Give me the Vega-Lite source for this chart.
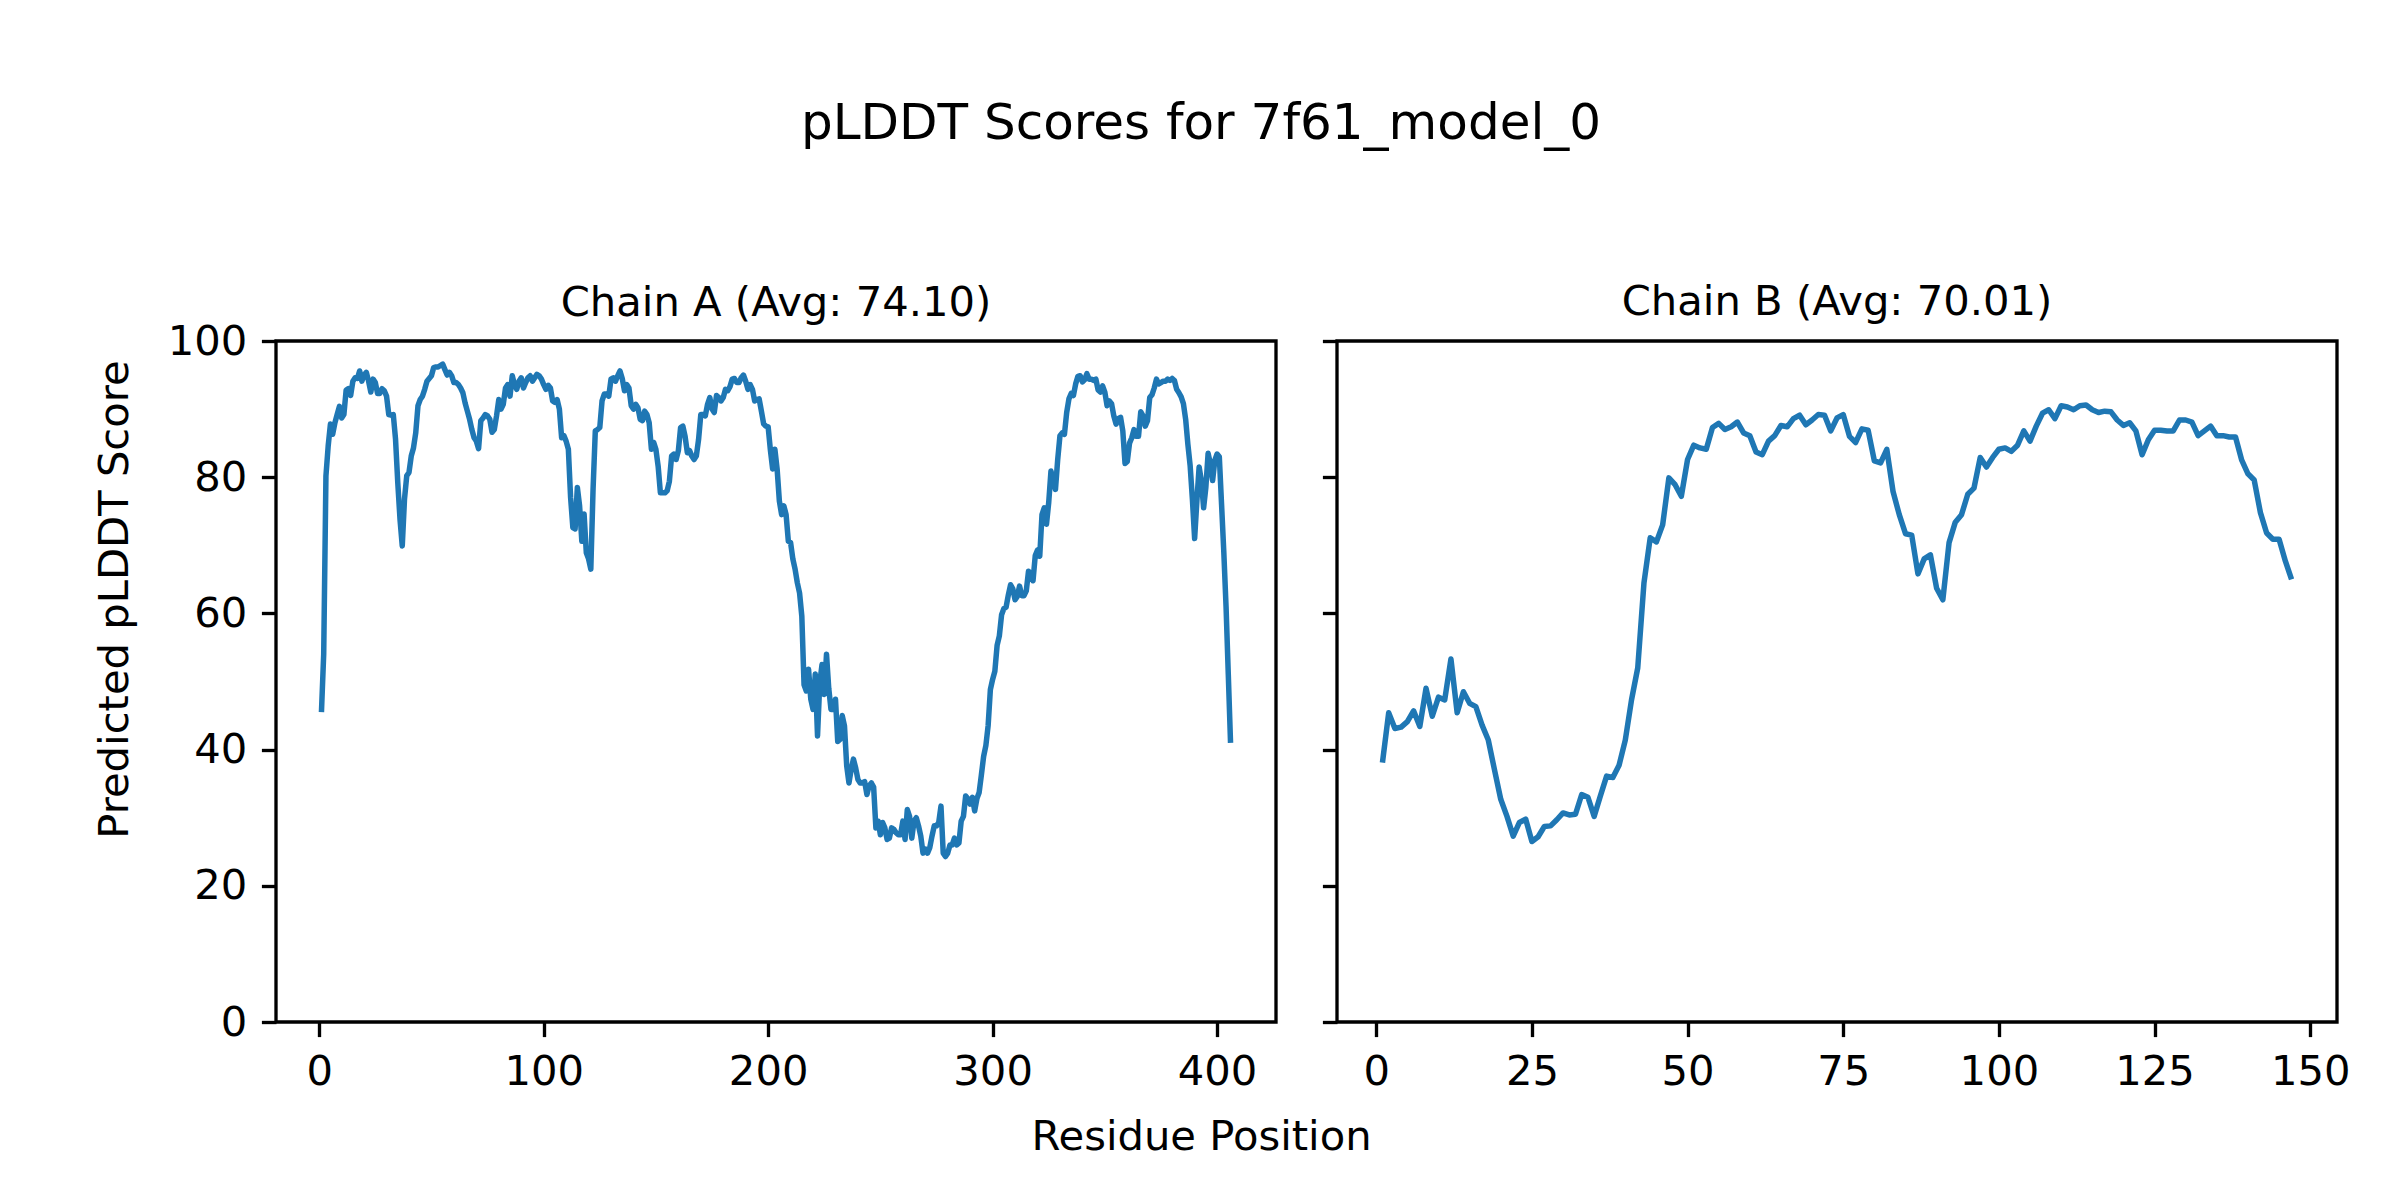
{
  "$schema": "https://vega.github.io/schema/vega-lite/v6.json",
  "background": "white",
  "autosize": {"type": "pad"},
  "padding": {"left": 92, "top": 98, "right": 0, "bottom": 0},
  "bounds": "flush",
  "spacing": 61,
  "title": {"text": "pLDDT Scores for 7f61_model_0", "fontSize": 50, "fontWeight": "normal", "color": "black", "font": "DejaVu Sans", "anchor": "start", "align": "center", "frame": "group", "dx": 925, "baseline": "alphabetic", "offset": 92},
  "datasets": {
    "chainA": [
      {"residue":1,"plddt":45.5},{"residue":2,"plddt":54.0},{"residue":3,"plddt":80.2},{"residue":4,"plddt":84.6},{"residue":5,"plddt":87.8},{"residue":6,"plddt":86.3},{"residue":7,"plddt":88.0},{"residue":8,"plddt":89.2},{"residue":9,"plddt":90.4},{"residue":10,"plddt":88.7},
      {"residue":11,"plddt":89.2},{"residue":12,"plddt":92.8},{"residue":13,"plddt":93.0},{"residue":14,"plddt":92.0},{"residue":15,"plddt":94.1},{"residue":16,"plddt":94.6},{"residue":17,"plddt":94.5},{"residue":18,"plddt":95.6},{"residue":19,"plddt":94.1},{"residue":20,"plddt":95.0},
      {"residue":21,"plddt":95.4},{"residue":22,"plddt":94.1},{"residue":23,"plddt":92.5},{"residue":24,"plddt":94.4},{"residue":25,"plddt":93.9},{"residue":26,"plddt":92.3},{"residue":27,"plddt":92.3},{"residue":28,"plddt":93.0},{"residue":29,"plddt":92.7},{"residue":30,"plddt":91.9},
      {"residue":31,"plddt":89.2},{"residue":32,"plddt":89.1},{"residue":33,"plddt":89.2},{"residue":34,"plddt":85.6},{"residue":35,"plddt":79.2},{"residue":36,"plddt":73.8},{"residue":37,"plddt":69.9},{"residue":38,"plddt":76.8},{"residue":39,"plddt":80.2},{"residue":40,"plddt":80.7},
      {"residue":41,"plddt":83.1},{"residue":42,"plddt":84.3},{"residue":43,"plddt":86.5},{"residue":44,"plddt":90.5},{"residue":45,"plddt":91.4},{"residue":46,"plddt":91.9},{"residue":47,"plddt":92.9},{"residue":48,"plddt":94.1},{"residue":49,"plddt":94.5},{"residue":50,"plddt":94.9},
      {"residue":51,"plddt":96.1},{"residue":52,"plddt":96.2},{"residue":53,"plddt":96.2},{"residue":54,"plddt":96.4},{"residue":55,"plddt":96.6},{"residue":56,"plddt":95.8},{"residue":57,"plddt":95.0},{"residue":58,"plddt":95.4},{"residue":59,"plddt":94.9},{"residue":60,"plddt":93.9},
      {"residue":61,"plddt":93.9},{"residue":62,"plddt":93.6},{"residue":63,"plddt":93.1},{"residue":64,"plddt":92.4},{"residue":65,"plddt":90.9},{"residue":66,"plddt":89.7},{"residue":67,"plddt":88.5},{"residue":68,"plddt":87.0},{"residue":69,"plddt":85.8},{"residue":70,"plddt":85.3},
      {"residue":71,"plddt":84.2},{"residue":72,"plddt":88.3},{"residue":73,"plddt":88.7},{"residue":74,"plddt":89.2},{"residue":75,"plddt":89.0},{"residue":76,"plddt":88.5},{"residue":77,"plddt":86.6},{"residue":78,"plddt":87.0},{"residue":79,"plddt":89.0},{"residue":80,"plddt":91.4},
      {"residue":81,"plddt":90.0},{"residue":82,"plddt":90.7},{"residue":83,"plddt":93.1},{"residue":84,"plddt":93.6},{"residue":85,"plddt":91.9},{"residue":86,"plddt":94.9},{"residue":87,"plddt":93.6},{"residue":88,"plddt":92.9},{"residue":89,"plddt":94.1},{"residue":90,"plddt":94.6},
      {"residue":91,"plddt":93.1},{"residue":92,"plddt":93.9},{"residue":93,"plddt":94.6},{"residue":94,"plddt":94.9},{"residue":95,"plddt":94.1},{"residue":96,"plddt":94.6},{"residue":97,"plddt":95.1},{"residue":98,"plddt":94.9},{"residue":99,"plddt":94.4},{"residue":100,"plddt":93.6},
      {"residue":101,"plddt":92.9},{"residue":102,"plddt":93.5},{"residue":103,"plddt":93.1},{"residue":104,"plddt":91.2},{"residue":105,"plddt":91.0},{"residue":106,"plddt":91.4},{"residue":107,"plddt":90.0},{"residue":108,"plddt":85.8},{"residue":109,"plddt":86.1},{"residue":110,"plddt":85.3},
      {"residue":111,"plddt":84.1},{"residue":112,"plddt":77.0},{"residue":113,"plddt":72.6},{"residue":114,"plddt":72.4},{"residue":115,"plddt":78.5},{"residue":116,"plddt":75.8},{"residue":117,"plddt":70.6},{"residue":118,"plddt":74.6},{"residue":119,"plddt":68.9},{"residue":120,"plddt":68.0},
      {"residue":121,"plddt":66.5},{"residue":122,"plddt":78.2},{"residue":123,"plddt":86.8},{"residue":124,"plddt":87.0},{"residue":125,"plddt":87.3},{"residue":126,"plddt":91.2},{"residue":127,"plddt":92.2},{"residue":128,"plddt":92.2},{"residue":129,"plddt":91.9},{"residue":130,"plddt":94.4},
      {"residue":131,"plddt":94.6},{"residue":132,"plddt":94.1},{"residue":133,"plddt":94.9},{"residue":134,"plddt":95.6},{"residue":135,"plddt":94.5},{"residue":136,"plddt":92.7},{"residue":137,"plddt":93.6},{"residue":138,"plddt":93.1},{"residue":139,"plddt":90.5},{"residue":140,"plddt":90.0},
      {"residue":141,"plddt":90.7},{"residue":142,"plddt":90.2},{"residue":143,"plddt":88.5},{"residue":144,"plddt":88.3},{"residue":145,"plddt":89.7},{"residue":146,"plddt":89.2},{"residue":147,"plddt":88.0},{"residue":148,"plddt":84.1},{"residue":149,"plddt":85.1},{"residue":150,"plddt":84.1},
      {"residue":151,"plddt":81.6},{"residue":152,"plddt":77.7},{"residue":153,"plddt":77.7},{"residue":154,"plddt":77.7},{"residue":155,"plddt":78.0},{"residue":156,"plddt":79.4},{"residue":157,"plddt":83.1},{"residue":158,"plddt":83.4},{"residue":159,"plddt":82.6},{"residue":160,"plddt":83.9},
      {"residue":161,"plddt":87.3},{"residue":162,"plddt":87.5},{"residue":163,"plddt":86.0},{"residue":164,"plddt":83.6},{"residue":165,"plddt":83.9},{"residue":166,"plddt":83.1},{"residue":167,"plddt":82.6},{"residue":168,"plddt":83.1},{"residue":169,"plddt":85.5},{"residue":170,"plddt":89.2},
      {"residue":171,"plddt":89.2},{"residue":172,"plddt":89.0},{"residue":173,"plddt":90.7},{"residue":174,"plddt":91.7},{"residue":175,"plddt":90.0},{"residue":176,"plddt":89.5},{"residue":177,"plddt":92.0},{"residue":178,"plddt":91.7},{"residue":179,"plddt":91.2},{"residue":180,"plddt":91.7},
      {"residue":181,"plddt":92.9},{"residue":182,"plddt":92.7},{"residue":183,"plddt":93.3},{"residue":184,"plddt":94.4},{"residue":185,"plddt":94.5},{"residue":186,"plddt":93.9},{"residue":187,"plddt":93.9},{"residue":188,"plddt":94.6},{"residue":189,"plddt":95.0},{"residue":190,"plddt":94.1},
      {"residue":191,"plddt":92.9},{"residue":192,"plddt":93.6},{"residue":193,"plddt":92.9},{"residue":194,"plddt":91.2},{"residue":195,"plddt":91.4},{"residue":196,"plddt":91.5},{"residue":197,"plddt":89.7},{"residue":198,"plddt":87.8},{"residue":199,"plddt":87.5},{"residue":200,"plddt":87.4},
      {"residue":201,"plddt":84.0},{"residue":202,"plddt":81.2},{"residue":203,"plddt":84.1},{"residue":204,"plddt":81.2},{"residue":205,"plddt":76.5},{"residue":206,"plddt":74.5},{"residue":207,"plddt":75.8},{"residue":208,"plddt":74.5},{"residue":209,"plddt":70.6},{"residue":210,"plddt":70.4},
      {"residue":211,"plddt":68.0},{"residue":212,"plddt":66.5},{"residue":213,"plddt":64.5},{"residue":214,"plddt":63.0},{"residue":215,"plddt":59.6},{"residue":216,"plddt":49.5},{"residue":217,"plddt":48.6},{"residue":218,"plddt":51.8},{"residue":219,"plddt":47.4},{"residue":220,"plddt":45.9},
      {"residue":221,"plddt":51.1},{"residue":222,"plddt":42.0},{"residue":223,"plddt":49.8},{"residue":224,"plddt":52.5},{"residue":225,"plddt":48.1},{"residue":226,"plddt":54.0},{"residue":227,"plddt":49.0},{"residue":228,"plddt":45.9},{"residue":229,"plddt":45.9},{"residue":230,"plddt":47.4},
      {"residue":231,"plddt":41.2},{"residue":232,"plddt":41.5},{"residue":233,"plddt":45.0},{"residue":234,"plddt":43.5},{"residue":235,"plddt":37.6},{"residue":236,"plddt":35.1},{"residue":237,"plddt":37.1},{"residue":238,"plddt":38.6},{"residue":239,"plddt":37.3},{"residue":240,"plddt":35.6},
      {"residue":241,"plddt":35.1},{"residue":242,"plddt":35.1},{"residue":243,"plddt":35.3},{"residue":244,"plddt":33.4},{"residue":245,"plddt":34.7},{"residue":246,"plddt":35.1},{"residue":247,"plddt":34.5},{"residue":248,"plddt":28.5},{"residue":249,"plddt":29.5},{"residue":250,"plddt":27.5},
      {"residue":251,"plddt":29.3},{"residue":252,"plddt":28.5},{"residue":253,"plddt":26.8},{"residue":254,"plddt":27.0},{"residue":255,"plddt":28.5},{"residue":256,"plddt":28.3},{"residue":257,"plddt":27.8},{"residue":258,"plddt":27.5},{"residue":259,"plddt":27.5},{"residue":260,"plddt":29.5},
      {"residue":261,"plddt":26.8},{"residue":262,"plddt":31.2},{"residue":263,"plddt":30.2},{"residue":264,"plddt":27.0},{"residue":265,"plddt":29.5},{"residue":266,"plddt":30.0},{"residue":267,"plddt":28.8},{"residue":268,"plddt":27.3},{"residue":269,"plddt":24.8},{"residue":270,"plddt":25.4},
      {"residue":271,"plddt":24.8},{"residue":272,"plddt":25.6},{"residue":273,"plddt":27.3},{"residue":274,"plddt":28.8},{"residue":275,"plddt":28.8},{"residue":276,"plddt":29.3},{"residue":277,"plddt":31.7},{"residue":278,"plddt":24.8},{"residue":279,"plddt":24.3},{"residue":280,"plddt":24.8},
      {"residue":281,"plddt":26.0},{"residue":282,"plddt":26.0},{"residue":283,"plddt":27.0},{"residue":284,"plddt":26.0},{"residue":285,"plddt":26.3},{"residue":286,"plddt":29.5},{"residue":287,"plddt":30.2},{"residue":288,"plddt":33.2},{"residue":289,"plddt":32.8},{"residue":290,"plddt":32.0},
      {"residue":291,"plddt":33.0},{"residue":292,"plddt":31.0},{"residue":293,"plddt":32.8},{"residue":294,"plddt":33.7},{"residue":295,"plddt":36.3},{"residue":296,"plddt":39.0},{"residue":297,"plddt":40.6},{"residue":298,"plddt":43.5},{"residue":299,"plddt":48.8},{"residue":300,"plddt":50.3},
      {"residue":301,"plddt":51.5},{"residue":302,"plddt":55.3},{"residue":303,"plddt":56.7},{"residue":304,"plddt":59.8},{"residue":305,"plddt":60.7},{"residue":306,"plddt":60.9},{"residue":307,"plddt":62.7},{"residue":308,"plddt":64.2},{"residue":309,"plddt":63.6},{"residue":310,"plddt":62.0},
      {"residue":311,"plddt":62.5},{"residue":312,"plddt":64.0},{"residue":313,"plddt":62.6},{"residue":314,"plddt":62.6},{"residue":315,"plddt":63.3},{"residue":316,"plddt":66.2},{"residue":317,"plddt":65.5},{"residue":318,"plddt":64.8},{"residue":319,"plddt":68.5},{"residue":320,"plddt":69.3},
      {"residue":321,"plddt":68.4},{"residue":322,"plddt":74.5},{"residue":323,"plddt":75.5},{"residue":324,"plddt":73.1},{"residue":325,"plddt":76.3},{"residue":326,"plddt":80.9},{"residue":327,"plddt":79.5},{"residue":328,"plddt":78.2},{"residue":329,"plddt":82.6},{"residue":330,"plddt":86.1},
      {"residue":331,"plddt":86.5},{"residue":332,"plddt":86.3},{"residue":333,"plddt":89.5},{"residue":334,"plddt":91.5},{"residue":335,"plddt":92.3},{"residue":336,"plddt":92.0},{"residue":337,"plddt":93.7},{"residue":338,"plddt":94.8},{"residue":339,"plddt":94.9},{"residue":340,"plddt":94.0},
      {"residue":341,"plddt":94.3},{"residue":342,"plddt":95.2},{"residue":343,"plddt":94.4},{"residue":344,"plddt":94.4},{"residue":345,"plddt":94.2},{"residue":346,"plddt":94.4},{"residue":347,"plddt":92.8},{"residue":348,"plddt":92.5},{"residue":349,"plddt":93.4},{"residue":350,"plddt":92.5},
      {"residue":351,"plddt":90.5},{"residue":352,"plddt":91.2},{"residue":353,"plddt":90.8},{"residue":354,"plddt":89.0},{"residue":355,"plddt":87.8},{"residue":356,"plddt":88.6},{"residue":357,"plddt":88.8},{"residue":358,"plddt":86.8},{"residue":359,"plddt":82.0},{"residue":360,"plddt":82.3},
      {"residue":361,"plddt":85.0},{"residue":362,"plddt":85.8},{"residue":363,"plddt":87.0},{"residue":364,"plddt":86.0},{"residue":365,"plddt":86.0},{"residue":366,"plddt":89.6},{"residue":367,"plddt":89.0},{"residue":368,"plddt":87.5},{"residue":369,"plddt":88.3},{"residue":370,"plddt":91.7},
      {"residue":371,"plddt":92.1},{"residue":372,"plddt":93.1},{"residue":373,"plddt":94.4},{"residue":374,"plddt":93.7},{"residue":375,"plddt":93.9},{"residue":376,"plddt":94.1},{"residue":377,"plddt":94.1},{"residue":378,"plddt":94.4},{"residue":379,"plddt":94.2},{"residue":380,"plddt":94.5},
      {"residue":381,"plddt":94.2},{"residue":382,"plddt":92.9},{"residue":383,"plddt":92.4},{"residue":384,"plddt":91.8},{"residue":385,"plddt":90.8},{"residue":386,"plddt":88.5},{"residue":387,"plddt":84.8},{"residue":388,"plddt":81.7},{"residue":389,"plddt":76.8},{"residue":390,"plddt":71.0},
      {"residue":391,"plddt":76.5},{"residue":392,"plddt":81.5},{"residue":393,"plddt":79.5},{"residue":394,"plddt":75.5},{"residue":395,"plddt":78.5},{"residue":396,"plddt":83.5},{"residue":397,"plddt":82.0},{"residue":398,"plddt":79.5},{"residue":399,"plddt":82.5},{"residue":400,"plddt":83.4},
      {"residue":401,"plddt":83.0},{"residue":402,"plddt":76.0},{"residue":403,"plddt":69.0},{"residue":404,"plddt":61.0},{"residue":405,"plddt":51.0},{"residue":406,"plddt":41.0}
    ],
    "chainB": [
      {"residue":1,"plddt":38.1},{"residue":2,"plddt":45.4},{"residue":3,"plddt":43.1},{"residue":4,"plddt":43.3},{"residue":5,"plddt":44.1},{"residue":6,"plddt":45.7},{"residue":7,"plddt":43.4},{"residue":8,"plddt":49.0},{"residue":9,"plddt":44.9},{"residue":10,"plddt":47.7},
      {"residue":11,"plddt":47.3},{"residue":12,"plddt":53.3},{"residue":13,"plddt":45.4},{"residue":14,"plddt":48.5},{"residue":15,"plddt":46.8},{"residue":16,"plddt":46.3},{"residue":17,"plddt":43.6},{"residue":18,"plddt":41.4},{"residue":19,"plddt":37.0},{"residue":20,"plddt":32.7},
      {"residue":21,"plddt":30.2},{"residue":22,"plddt":27.3},{"residue":23,"plddt":29.3},{"residue":24,"plddt":29.8},{"residue":25,"plddt":26.5},{"residue":26,"plddt":27.2},{"residue":27,"plddt":28.7},{"residue":28,"plddt":28.8},{"residue":29,"plddt":29.7},{"residue":30,"plddt":30.7},
      {"residue":31,"plddt":30.4},{"residue":32,"plddt":30.5},{"residue":33,"plddt":33.4},{"residue":34,"plddt":33.0},{"residue":35,"plddt":30.2},{"residue":36,"plddt":33.2},{"residue":37,"plddt":36.1},{"residue":38,"plddt":35.9},{"residue":39,"plddt":37.7},{"residue":40,"plddt":41.4},
      {"residue":41,"plddt":47.3},{"residue":42,"plddt":52.0},{"residue":43,"plddt":64.5},{"residue":44,"plddt":71.1},{"residue":45,"plddt":70.5},{"residue":46,"plddt":73.0},{"residue":47,"plddt":79.9},{"residue":48,"plddt":78.9},{"residue":49,"plddt":77.2},{"residue":50,"plddt":82.6},
      {"residue":51,"plddt":84.7},{"residue":52,"plddt":84.3},{"residue":53,"plddt":84.1},{"residue":54,"plddt":87.3},{"residue":55,"plddt":87.9},{"residue":56,"plddt":87.0},{"residue":57,"plddt":87.4},{"residue":58,"plddt":88.1},{"residue":59,"plddt":86.5},{"residue":60,"plddt":86.1},
      {"residue":61,"plddt":83.7},{"residue":62,"plddt":83.3},{"residue":63,"plddt":85.3},{"residue":64,"plddt":86.1},{"residue":65,"plddt":87.6},{"residue":66,"plddt":87.4},{"residue":67,"plddt":88.6},{"residue":68,"plddt":89.1},{"residue":69,"plddt":87.7},{"residue":70,"plddt":88.4},
      {"residue":71,"plddt":89.2},{"residue":72,"plddt":89.1},{"residue":73,"plddt":86.8},{"residue":74,"plddt":88.7},{"residue":75,"plddt":89.2},{"residue":76,"plddt":86.0},{"residue":77,"plddt":85.1},{"residue":78,"plddt":87.1},{"residue":79,"plddt":86.9},{"residue":80,"plddt":82.4},
      {"residue":81,"plddt":82.1},{"residue":82,"plddt":84.1},{"residue":83,"plddt":77.9},{"residue":84,"plddt":74.5},{"residue":85,"plddt":71.7},{"residue":86,"plddt":71.5},{"residue":87,"plddt":65.8},{"residue":88,"plddt":68.0},{"residue":89,"plddt":68.6},{"residue":90,"plddt":63.7},
      {"residue":91,"plddt":62.0},{"residue":92,"plddt":70.4},{"residue":93,"plddt":73.4},{"residue":94,"plddt":74.5},{"residue":95,"plddt":77.5},{"residue":96,"plddt":78.4},{"residue":97,"plddt":82.9},{"residue":98,"plddt":81.5},{"residue":99,"plddt":82.9},{"residue":100,"plddt":84.1},
      {"residue":101,"plddt":84.3},{"residue":102,"plddt":83.8},{"residue":103,"plddt":84.7},{"residue":104,"plddt":86.8},{"residue":105,"plddt":85.3},{"residue":106,"plddt":87.5},{"residue":107,"plddt":89.4},{"residue":108,"plddt":89.9},{"residue":109,"plddt":88.6},{"residue":110,"plddt":90.5},
      {"residue":111,"plddt":90.3},{"residue":112,"plddt":89.9},{"residue":113,"plddt":90.5},{"residue":114,"plddt":90.6},{"residue":115,"plddt":89.9},{"residue":116,"plddt":89.5},{"residue":117,"plddt":89.7},{"residue":118,"plddt":89.6},{"residue":119,"plddt":88.4},{"residue":120,"plddt":87.6},
      {"residue":121,"plddt":88.0},{"residue":122,"plddt":86.8},{"residue":123,"plddt":83.3},{"residue":124,"plddt":85.5},{"residue":125,"plddt":86.9},{"residue":126,"plddt":86.9},{"residue":127,"plddt":86.8},{"residue":128,"plddt":86.8},{"residue":129,"plddt":88.4},{"residue":130,"plddt":88.4},
      {"residue":131,"plddt":88.1},{"residue":132,"plddt":86.1},{"residue":133,"plddt":86.8},{"residue":134,"plddt":87.5},{"residue":135,"plddt":86.1},{"residue":136,"plddt":86.1},{"residue":137,"plddt":85.9},{"residue":138,"plddt":85.9},{"residue":139,"plddt":82.5},{"residue":140,"plddt":80.5},
      {"residue":141,"plddt":79.6},{"residue":142,"plddt":74.8},{"residue":143,"plddt":71.8},{"residue":144,"plddt":70.9},{"residue":145,"plddt":70.9},{"residue":146,"plddt":67.7},{"residue":147,"plddt":65.0}
    ]
  },
  "hconcat": [
    {
      "data": {"name": "chainA"},
      "width": 1000,
      "height": 681,
      "title": {"text": "Chain A (Avg: 74.10)", "fontSize": 41.7, "fontWeight": "normal", "color": "black", "baseline": "alphabetic", "offset": -37},
      "mark": {"type": "line", "color": "#1f77b4", "strokeWidth": 5.5, "strokeJoin": "round"},
      "encoding": {
        "x": {"field": "residue", "type": "quantitative", "scale": {"domain": [-19.25, 426.25], "nice": false, "zero": false},
          "axis": {"values": [0, 100, 200, 300, 400], "title": "Residue Position", "titleX": 925, "titleY": 114, "titleAlign": "center", "titleBaseline": "middle"}},
        "y": {"field": "plddt", "type": "quantitative", "scale": {"domain": [0, 100], "nice": false, "zero": false},
          "axis": {"values": [0, 20, 40, 60, 80, 100], "title": "Predicted pLDDT Score", "titleX": -162, "titleY": 258, "titleAlign": "center", "titleBaseline": "middle", "titleAngle": -90}}
      }
    },
    {
      "data": {"name": "chainB"},
      "width": 1000,
      "height": 681,
      "title": {"text": "Chain B (Avg: 70.01)", "fontSize": 41.7, "fontWeight": "normal", "color": "black", "baseline": "alphabetic", "offset": -17.7},
      "mark": {"type": "line", "color": "#1f77b4", "strokeWidth": 5.5, "strokeJoin": "round"},
      "encoding": {
        "x": {"field": "residue", "type": "quantitative", "scale": {"domain": [-6.3, 154.3], "nice": false, "zero": false},
          "axis": {"values": [0, 25, 50, 75, 100, 125, 150], "title": null}},
        "y": {"field": "plddt", "type": "quantitative", "scale": {"domain": [0, 100], "nice": false, "zero": false},
          "axis": {"values": [0, 20, 40, 60, 80, 100], "labels": false, "title": null}}
      }
    }
  ],
  "config": {
    "font": "DejaVu Sans",
    "view": {"stroke": "black", "strokeWidth": 3.33},
    "axis": {"domain": false, "grid": false, "ticks": true, "tickColor": "black", "tickWidth": 3.33, "tickSize": 14.6,
      "labelFontSize": 41.7, "labelColor": "black", "labelPadding": 14.6, "labelFlush": false, "labelOverlap": false, "labelFont": "DejaVu Sans",
      "titleFontSize": 41.7, "titleFontWeight": "normal", "titleColor": "black", "titleFont": "DejaVu Sans"},
    "title": {"font": "DejaVu Sans", "fontWeight": "normal", "color": "black"}
  }
}
